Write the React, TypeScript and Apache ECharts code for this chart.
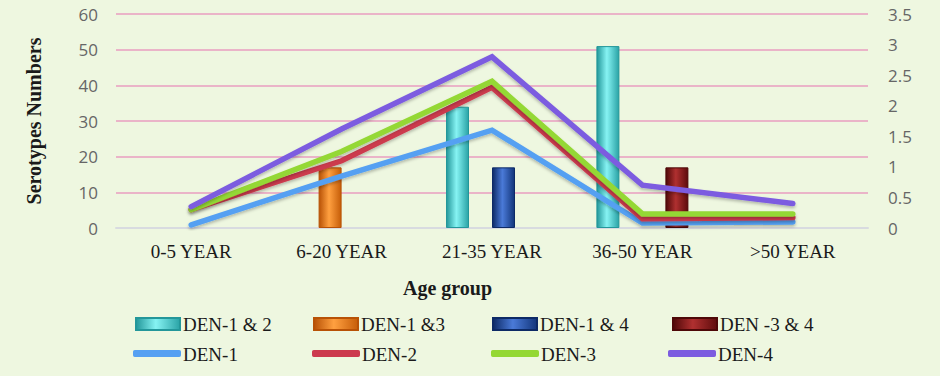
import React, { useEffect, useRef } from "react";
import * as echarts from "echarts";

const categories = ["0-5 YEAR", "6-20 YEAR", "21-35 YEAR", "36-50 YEAR", ">50 YEAR"];
const leftTicks = { min: 0, max: 60, interval: 10 };
const rightTicks = { min: 0, max: 3.5, interval: 0.5 };

const barNames = ["DEN-1 & 2", "DEN-1 &3", "DEN-1 & 4", "DEN -3 & 4"];
const den12 = [null, null, 34, 51, null];
const den13 = [null, 17, null, null, null];
const den14 = [null, null, 17, null, null];
const den34 = [null, null, null, 17, null];

const lineNames = ["DEN-1", "DEN-2", "DEN-3", "DEN-4"];
const den1 = [0.05, 0.85, 1.6, 0.08, 0.1];
const den2 = [0.3, 1.1, 2.3, 0.15, 0.17];
const den3 = [0.3, 1.25, 2.4, 0.23, 0.23];
const den4 = [0.35, 1.62, 2.8, 0.7, 0.4];

const barData = [den12, den13, den14, den34];
const lineData = [den1, den2, den3, den4];

const barGrad = [
  ["#23979a", "#86f3f3", "#2aa3a6"],
  ["#b85206", "#ffa040", "#c65d08"],
  ["#0d2a66", "#4a7ad8", "#12357a"],
  ["#4e0808", "#b03030", "#5e0c0c"],
];
const lineColors = ["#55a0f2", "#cc3a4e", "#94d834", "#7c5ce0"];

function grad(c: string[]) {
  return new echarts.graphic.LinearGradient(0, 0, 1, 0, [
    { offset: 0, color: c[0] },
    { offset: 0.45, color: c[1] },
    { offset: 1, color: c[2] },
  ]);
}

export default function App() {
  const ref = useRef<HTMLDivElement>(null);
  useEffect(() => {
    if (!ref.current) return;
    const chart = echarts.init(ref.current, null, { renderer: "svg" });
    const serif = "Liberation Serif";
    const barX = [135, 313, 492, 672];
    const lineX = [133, 312, 491, 668];
    const legends: any[] = [];
    const graphics: any[] = [
      {
        type: "text",
        left: 403,
        top: 278,
        style: { text: "Age group", font: "bold 20px 'Liberation Serif', serif", fill: "#1a1a1a" },
      },
    ];
    barNames.forEach((n, i) => {
      legends.push({
        data: [n],
        left: barX[i],
        top: 317,
        padding: 0,
        icon: "rect",
        itemWidth: 44,
        itemHeight: 12,
        selectedMode: false,
        formatter: () => "",
        textStyle: { fontSize: 12 },
      });
      graphics.push({
        type: "text",
        x: barX[i] + 48,
        y: 324,
        style: {
          text: n,
          font: "19px 'Liberation Serif', serif",
          fill: "#1a1a1a",
          verticalAlign: "middle",
        },
      });
    });
    lineNames.forEach((n, i) => {
      legends.push({
        data: [n],
        left: lineX[i],
        top: 350,
        padding: 0,
        icon: "roundRect",
        itemWidth: 48,
        itemHeight: 7,
        selectedMode: false,
        formatter: () => "",
        itemStyle: { borderWidth: 0 },
        textStyle: { fontSize: 7 },
      });
      graphics.push({
        type: "text",
        x: lineX[i] + 50,
        y: 354,
        style: {
          text: n,
          font: "19px 'Liberation Serif', serif",
          fill: "#1a1a1a",
          verticalAlign: "middle",
        },
      });
    });

    const series: any[] = [];
    barNames.forEach((n, i) => {
      series.push({
        name: n,
        type: "bar",
        yAxisIndex: 0,
        data: barData[i],
        barWidth: 23,
        barGap: "0%",
        itemStyle: { color: grad(barGrad[i]), borderColor: barGrad[i][0], borderWidth: 1 },
      });
    });
    lineNames.forEach((n, i) => {
      series.push({
        name: n,
        type: "line",
        yAxisIndex: 1,
        data: lineData[i],
        symbol: "none",
        color: lineColors[i],
        lineStyle: {
          width: 5.5,
          color: lineColors[i],
          cap: "round",
          join: "miter",
          shadowColor: "rgba(0,0,0,0.25)",
          shadowBlur: 3,
          shadowOffsetY: 2,
        },
        z: 3,
      });
    });

    chart.setOption({
      animation: false,
      backgroundColor: "#eef7e0",
      grid: { left: 116, right: 72, top: 14, bottom: 148, containLabel: false },
      legend: legends,
      xAxis: {
        type: "category",
        data: categories,
        axisLine: { lineStyle: { color: "#d8dbe0", width: 2 } },
        axisTick: { show: false },
        axisLabel: { fontFamily: serif, fontSize: 19, color: "#1a1a1a", margin: 14 },
      },
      yAxis: [
        {
          type: "value",
          ...leftTicks,
          name: "Serotypes Numbers",
          nameLocation: "middle",
          nameGap: 72,
          nameTextStyle: { fontFamily: serif, fontSize: 20, fontWeight: "bold", color: "#1a1a1a" },
          axisLine: { show: false },
          axisTick: { show: false },
          axisLabel: { fontFamily: "Open Sans", fontSize: 17, color: "#666", margin: 18 },
          splitLine: { lineStyle: { color: "#eab4c8", width: 2 } },
        },
        {
          type: "value",
          ...rightTicks,
          position: "right",
          axisLine: { show: false },
          axisTick: { show: false },
          axisLabel: { fontFamily: "Open Sans", fontSize: 17, color: "#666", margin: 20 },
          splitLine: { show: false },
        },
      ],
      graphic: graphics,
      series,
    });
    return () => chart.dispose();
  }, []);
  return (
    <div
      ref={ref}
      style={{ position: "fixed", left: 0, top: 0, width: 940, height: 376, background: "#eef7e0" }}
    />
  );
}
